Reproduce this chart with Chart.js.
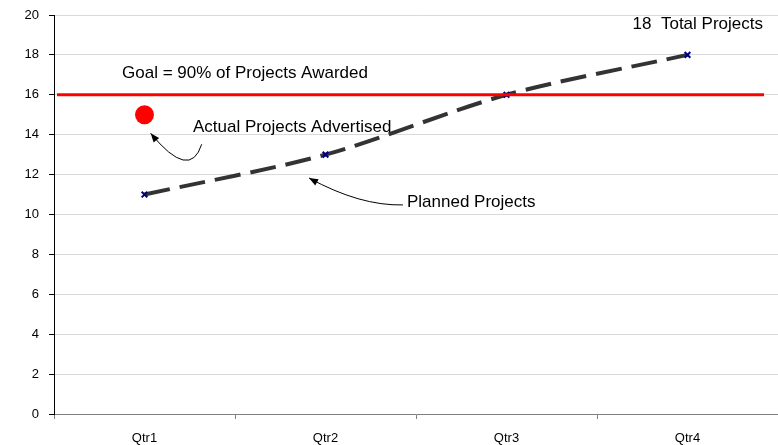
<!DOCTYPE html>
<html>
<head>
<meta charset="utf-8">
<script src="https://cdn.jsdelivr.net/npm/chart.js@4"></script>
<style>
  html, body { margin: 0; padding: 0; background: #fff; }
  #wrap { width: 778px; height: 445px; position: relative; }
</style>
</head>
<body>
<div id="wrap"><canvas id="chart"></canvas></div>
<script>
// Quarterly project counts
const quarters = ['Qtr1', 'Qtr2', 'Qtr3', 'Qtr4'];
const plannedProjects = [11, 13, 16, 18];
const actualAdvertised = [15, null, null, null];
const goalValue = 16;
const totalProjects = 18;
const yMin = 0;
const yMax = 20;
const yStep = 2;

const FONT = '"Liberation Sans", Arial, sans-serif';

// Callout text anchored in data space: x = category index (fractional), y = value
const callouts = [
  { text: 'Goal = 90% of Projects Awarded', x: -0.124, y: 17.09, align: 'left' },
  { text: 'Actual Projects Advertised', x: 0.268, y: 14.39, align: 'left' },
  { text: 'Planned Projects', x: 1.45, y: 10.63, align: 'left' },
  { text: totalProjects + '  Total Projects', x: 3.417, y: 19.55, align: 'right' }
];

// Curved pointer arrows: start, control, tip (data space)
const arrows = [
  { from: [0.316, 13.52], ctrl: [0.251, 11.67], to: [0.034, 14.07] },
  { from: [1.428, 10.48], ctrl: [1.19, 10.43], to: [0.909, 11.83] }
];

const overlay = {
  id: 'overlay',
  afterDatasetsDraw(chart) {
    const { ctx, chartArea, scales } = chart;
    const xs = scales.x, ys = scales.y;
    const px = v => xs.getPixelForValue(v);
    const py = v => ys.getPixelForValue(v);

    // goal line
    ctx.save();
    ctx.strokeStyle = '#ff0000';
    ctx.lineWidth = 3;
    ctx.beginPath();
    const gy = py(goalValue);
    ctx.moveTo(chartArea.left + 3, gy);
    ctx.lineTo(chartArea.right - 14, gy);
    ctx.stroke();

    // texts
    ctx.fillStyle = '#000';
    ctx.font = '17px ' + FONT;
    ctx.textBaseline = 'middle';
    callouts.forEach(c => {
      ctx.textAlign = c.align;
      ctx.fillText(c.text, px(c.x), py(c.y));
    });

    // arrows
    ctx.strokeStyle = '#000';
    ctx.lineWidth = 1;
    arrows.forEach(a => {
      const x0 = px(a.from[0]), y0 = py(a.from[1]);
      const cx = px(a.ctrl[0]), cy = py(a.ctrl[1]);
      const x1 = px(a.to[0]), y1 = py(a.to[1]);
      ctx.beginPath();
      ctx.moveTo(x0, y0);
      ctx.quadraticCurveTo(cx, cy, x1, y1);
      ctx.stroke();
      const ang = Math.atan2(y1 - cy, x1 - cx);
      const len = 9, w = 3.5;
      ctx.beginPath();
      ctx.moveTo(x1, y1);
      ctx.lineTo(x1 - len * Math.cos(ang) + w * Math.sin(ang), y1 - len * Math.sin(ang) - w * Math.cos(ang));
      ctx.lineTo(x1 - len * Math.cos(ang) - w * Math.sin(ang), y1 - len * Math.sin(ang) + w * Math.cos(ang));
      ctx.closePath();
      ctx.fillStyle = '#000';
      ctx.fill();
    });
    ctx.restore();
  }
};

new Chart(document.getElementById('chart'), {
  type: 'line',
  data: {
    labels: quarters,
    datasets: [
      {
        label: 'Planned Projects',
        data: plannedProjects,
        borderColor: '#333333',
        borderWidth: 4,
        borderDash: [26, 10],
        tension: 0.3,
        fill: false,
        pointStyle: 'crossRot',
        pointRadius: 4,
        pointBackgroundColor: '#000080',
        pointBorderColor: '#000080',
        pointBorderWidth: 2
      },
      {
        label: 'Actual Projects Advertised',
        data: actualAdvertised,
        showLine: false,
        pointRadius: 9.5,
        pointBackgroundColor: '#ff0000',
        pointBorderColor: '#ff0000',
        pointBorderWidth: 0
      }
    ]
  },
  options: {
    responsive: true,
    maintainAspectRatio: false,
    animation: false,
    layout: { autoPadding: false, padding: { top: 15, right: 0, bottom: 0, left: 0 } },
    plugins: { legend: { display: false }, tooltip: { enabled: false } },
    scales: {
      x: {
        offset: true,
        grid: { offset: true, drawOnChartArea: false, tickLength: 5, tickColor: '#808080', color: '#808080' },
        border: { color: '#808080', width: 1 },
        ticks: { color: '#000', font: { family: FONT, size: 13 }, padding: 12, maxRotation: 0 },
        afterFit(s) { s.height = 31; s.paddingLeft = 0; s.paddingRight = 0; }
      },
      y: {
        min: yMin,
        max: yMax,
        ticks: { stepSize: yStep, color: '#000', font: { family: FONT, size: 13 }, padding: 10 },
        grid: { color: '#d9d9d9', tickColor: '#000', tickLength: 5 },
        border: { color: '#000', width: 1 },
        afterFit(s) { s.width = 54; s.paddingTop = 0; s.paddingBottom = 0; }
      }
    }
  },
  plugins: [overlay]
});
</script>
</body>
</html>
